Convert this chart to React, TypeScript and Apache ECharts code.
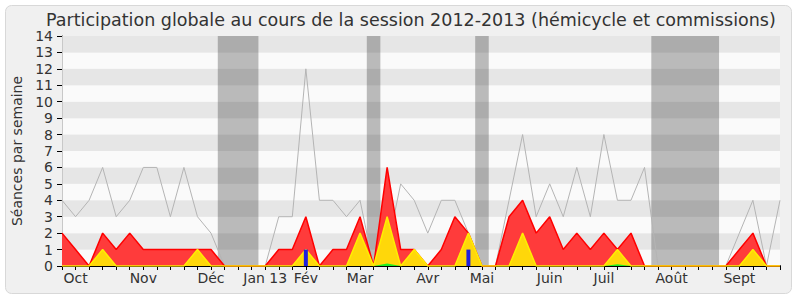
import React, { useEffect, useRef } from "react";
import * as echarts from "echarts";

// Week index 0..53 (one point per week, Oct 2012 -> Sept 2013)
const weekLabels: string[] = [
  "", "Oct", "", "", "", "", "Nov", "", "", "", "",
  "Déc", "", "", "", "Jan 13", "", "", "Fév", "", "", "",
  "Mar", "", "", "", "", "Avr", "", "", "", "Mai", "", "", "", "",
  "Juin", "", "", "", "Juil", "", "", "", "", "Août", "", "", "", "",
  "Sept", "", "", "",
];

// Median presence of all deputies (gray line)
const medianValues = [
  4, 3, 4, 6, 3, 4, 6, 6, 3, 6, 3, 2, 0, 0, 0, 0, 3, 3, 12, 4, 4, 3, 4, 0, 1, 5, 4,
  2, 4, 4, 2, 0, 0, 4, 8, 3, 5, 3, 6, 3, 8, 4, 4, 6, 0, 0, 0, 0, 0, 0, 2, 4, 0, 4,
];
// Presence (red area)
const presenceValues = [
  2, 1, 0, 2, 1, 2, 1, 1, 1, 1, 1, 1, 0, 0, 0, 0, 1, 1, 3, 0, 1, 1, 3, 0, 6, 1, 1,
  0, 1, 3, 2, 0, 0, 3, 4, 2, 3, 1, 2, 1, 2, 1, 2, 0, 0, 0, 0, 0, 0, 0, 1, 2, 0, 0,
];
// Participation (yellow area)
const participationValues = [
  0, 0, 0, 1, 0, 0, 0, 0, 0, 0, 1, 0, 0, 0, 0, 0, 0, 0, 1, 0, 0, 0, 2, 0, 3, 0, 1,
  0, 0, 0, 2, 0, 0, 0, 2, 0, 0, 0, 0, 0, 0, 1, 0, 0, 0, 0, 0, 0, 0, 0, 0, 1, 0, 0,
];
// Green area (tiny)
const greenValues = [
  0, 0, 0, 0, 0, 0, 0, 0, 0, 0, 0, 0, 0, 0, 0, 0, 0, 0, 0, 0, 0, 0, 0, 0, 0.15, 0, 0,
  0, 0, 0, 0, 0, 0, 0, 0, 0, 0, 0, 0, 0, 0, 0.1, 0, 0, 0, 0, 0, 0, 0, 0, 0, 0, 0, 0,
];
// Oral questions (blue bars): [week, count]
const questionWeeks = [18, 30];
const questionValues = [1, 1];

// Vacation periods (first week, last week)
const vacationStart = [12, 23, 31, 44];
const vacationEnd = [14, 23, 31, 48];

const yTicksMax = 14;
const FONT = "DejaVu Sans";
const TEXT = "#333333";

const toPairs = (arr: number[]) => arr.map((v, i) => [i, v]);

export default function App() {
  const ref = useRef<HTMLDivElement>(null);
  useEffect(() => {
    if (!ref.current) return;
    const chart = echarts.init(ref.current, undefined, { renderer: "svg" });
    const nWeeks = weekLabels.length;
    chart.setOption({
      animation: false,
      textStyle: { fontFamily: FONT },
      title: {
        text: "Participation globale au cours de la session 2012-2013 (hémicycle et commissions)",
        left: 41,
        top: 6,
        textStyle: { fontFamily: FONT, fontSize: 17.5, fontWeight: "normal", color: TEXT },
      },
      graphic: [
        {
          type: "rect",
          z: -10,
          silent: true,
          shape: { x: 5.5, y: 5.5, width: 786, height: 288, r: 6 },
          style: { fill: "#f0f0f0", stroke: "#d8d8d8", lineWidth: 1 },
        },
      ],
      grid: { left: 62, right: 20, top: 36, bottom: 34 },
      xAxis: [
        {
          type: "value",
          min: 0,
          max: nWeeks - 1,
          interval: 1,
          axisLine: { show: true, onZero: false, lineStyle: { color: "#000", width: 1 } },
          axisTick: { show: true, length: 4, lineStyle: { color: "#000" } },
          axisLabel: {
            show: true,
            margin: 5,
            fontSize: 14,
            color: TEXT,
            fontFamily: FONT,
            formatter: (v: number) => weekLabels[Math.round(v)] ?? "",
          },
          splitLine: { show: false },
        },
        {
          type: "value",
          position: "top",
          min: 0,
          max: nWeeks - 1,
          interval: 1,
          axisLine: { show: false },
          axisTick: { show: true, length: 1, lineStyle: { color: "#444" } },
          axisLabel: { show: false },
          splitLine: { show: false },
        },
      ],
      yAxis: [
        {
          type: "value",
          min: 0,
          max: yTicksMax,
          interval: 1,
          name: "Séances par semaine",
          nameLocation: "middle",
          nameGap: 36,
          nameTextStyle: { fontFamily: FONT, fontSize: 14, color: TEXT },
          axisLine: { show: true, lineStyle: { color: "#000", width: 1 } },
          axisTick: { show: true, length: 5, lineStyle: { color: "#000" } },
          axisLabel: { margin: 9, fontSize: 14, color: TEXT, fontFamily: FONT },
          splitLine: { show: false },
          splitArea: { show: true, areaStyle: { color: ["#fafafa", "#e6e6e6"] } },
        },
        {
          type: "value",
          position: "right",
          min: 0,
          max: yTicksMax,
          interval: 1,
          axisLine: { show: true, lineStyle: { color: "#c8c8c8", width: 1 } },
          axisTick: { show: false },
          axisLabel: { show: false },
          splitLine: { show: false },
          splitArea: { show: false },
        },
      ],
      series: [
        {
          name: "Médiane",
          type: "line",
          data: toPairs(medianValues),
          symbol: "none",
          lineStyle: { color: "#b4b4b4", width: 1 },
          z: 1,
          markArea: {
            silent: true,
            itemStyle: { color: "rgba(40,40,40,0.3)" },
            data: vacationStart.map((s, k) => [
              { xAxis: s - 0.5 },
              { xAxis: vacationEnd[k] + 0.5 },
            ]),
          },
        },
        {
          name: "Présence",
          type: "line",
          data: toPairs(presenceValues),
          symbol: "none",
          lineStyle: { color: "#ff0000", width: 1.5 },
          areaStyle: { color: "#ff3b3b", opacity: 1 },
          z: 3,
        },
        {
          name: "Participation",
          type: "line",
          data: toPairs(participationValues),
          symbol: "none",
          lineStyle: { color: "#ffee00", width: 1.5 },
          areaStyle: { color: "#ffd70a", opacity: 1 },
          z: 4,
        },
        {
          name: "Autre",
          type: "line",
          data: toPairs(greenValues),
          symbol: "none",
          lineStyle: { width: 0 },
          areaStyle: { color: "#22ee22", opacity: 1 },
          z: 5,
        },
        {
          name: "Questions orales",
          type: "bar",
          data: questionWeeks.map((w, k) => [w, questionValues[k]]),
          barWidth: 4,
          itemStyle: { color: "#2020dd" },
          z: 6,
        },
      ],
    });
    return () => chart.dispose();
  }, []);
  return (
    <div
      ref={ref}
      style={{ position: "fixed", left: 0, top: 0, width: 800, height: 300, background: "#ffffff" }}
    />
  );
}
